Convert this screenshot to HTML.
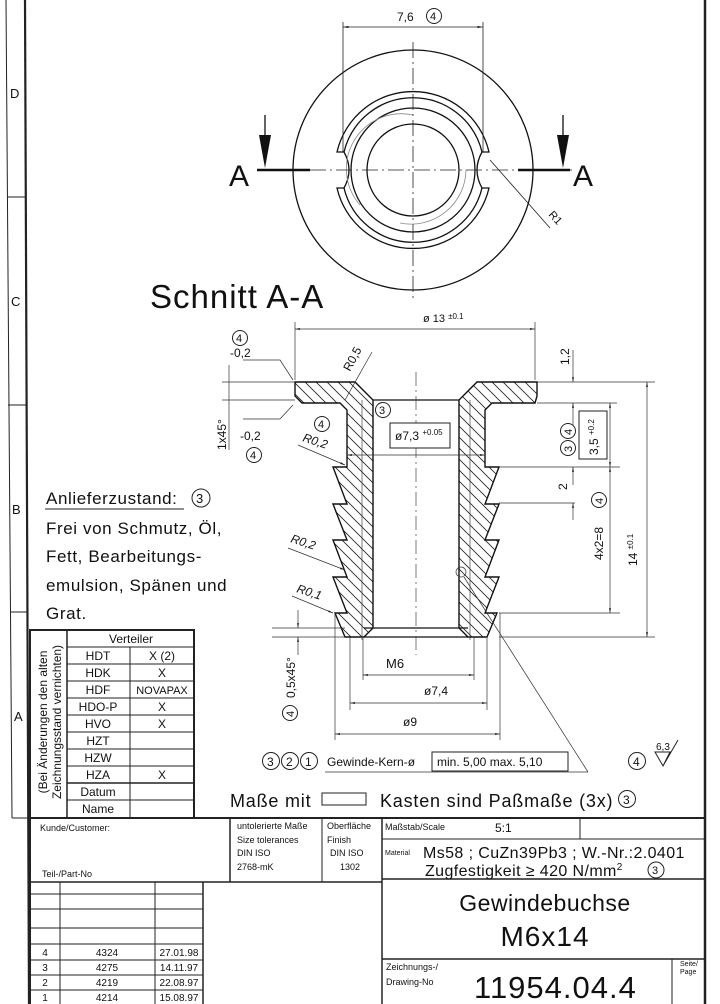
<!DOCTYPE html>
<html><head><meta charset="utf-8"><style>
html,body{margin:0;padding:0;background:#fff;}
svg{display:block;}
text{font-family:"Liberation Sans","DejaVu Sans",sans-serif;fill:#111;}
</style></head><body>
<svg width="720" height="1004" viewBox="0 0 720 1004" xmlns="http://www.w3.org/2000/svg">
<defs>
<pattern id="h" patternUnits="userSpaceOnUse" width="11" height="11">
<path d="M-2,-2 L13,13 M-2,9 L2,13 M9,-2 L13,2" stroke="#222" stroke-width="0.8"/>
</pattern>
<marker id="ar" viewBox="0 0 10 10" refX="10" refY="5" markerWidth="7" markerHeight="7" orient="auto-start-reverse"><path d="M0,3 L10,5 L0,7 z" fill="#222"/></marker>
</defs>
<rect width="720" height="1004" fill="#fff"/>

<!-- Frame -->
<g stroke="#222" fill="none">
<line x1="6" y1="0" x2="12" y2="818" stroke-width="1"/>
<line x1="25" y1="0" x2="29" y2="1004" stroke-width="2.2"/>
<line x1="705" y1="0" x2="705" y2="1004" stroke-width="2.5"/>
<line x1="7" y1="197" x2="26" y2="197"/>
<line x1="8" y1="405" x2="27" y2="405"/>
<line x1="10" y1="612" x2="28" y2="612"/>
<line x1="12" y1="818" x2="30" y2="818"/>
</g>
<g font-size="13">
<text x="10" y="98">D</text><text x="11" y="306">C</text><text x="12" y="514">B</text><text x="14" y="721">A</text>
</g>

<!-- Top view -->
<g stroke="#111" fill="none" stroke-width="1.3">
<circle cx="413" cy="170" r="120"/>
<circle cx="413" cy="170" r="62"/>
<circle cx="413" cy="170" r="46"/>
<path d="M337,152 A78,78 0 0 1 489,152 L482,152 Q472,170 482,188 L489,188 A78,78 0 0 1 337,188 L344,188 Q354,170 344,152 Z"/>
<path d="M344,152 A71,71 0 0 1 482,152 M482,188 A71,71 0 0 1 344,188"/>
<path d="M360,205 A55,55 0 0 1 413,115" stroke="#888" stroke-width="0.8"/>
<path d="M466,170 A55,55 0 0 1 400,223" stroke="#888" stroke-width="0.8"/>
</g>
<g stroke="#222" stroke-width="0.8" fill="none">
<line x1="413" y1="42" x2="413" y2="298" stroke-dasharray="16,4,2,4"/>
<line x1="258" y1="170" x2="572" y2="170" stroke-dasharray="16,4,2,4"/>
<line x1="343" y1="22" x2="343" y2="152"/>
<line x1="483" y1="22" x2="483" y2="152"/>
<line x1="343" y1="27" x2="483" y2="27" marker-start="url(#ar)" marker-end="url(#ar)"/>
<line x1="490" y1="160" x2="550" y2="228"/>
</g>
<g stroke="#111" stroke-width="2.5">
<line x1="257" y1="170" x2="310" y2="170"/>
<line x1="518" y1="170" x2="570" y2="170"/>
<line x1="265" y1="115" x2="265" y2="140" stroke-width="1.3"/>
<line x1="563" y1="115" x2="563" y2="140" stroke-width="1.3"/>
</g>
<path d="M259,135 L271,135 L265,168 Z" fill="#111"/>
<path d="M557,135 L569,135 L563,168 Z" fill="#111"/>
<text x="229" y="186" font-size="30">A</text>
<text x="573" y="186" font-size="30">A</text>
<text x="397" y="21" font-size="12">7,6</text>
<circle cx="434" cy="16" r="7.5" fill="none" stroke="#222"/><text x="430" y="20" font-size="11">4</text>
<text x="0" y="0" font-size="11" transform="translate(548,215) rotate(48)">R1</text>

<text x="150" y="308" font-size="33" letter-spacing="1">Schnitt A-A</text>

<!-- Section view -->
<path d="M295,382 L355,382 L373,400 L373,628 L364,637 L345,637 L335,613 L347,613 L333,577 L347,577 L333,540 L347,540 L333,504 L347,504 L333,467 L347,467 L347,410 L340,403 L302,403 L295,396 Z" fill="url(#h)" stroke="#111" stroke-width="1.4"/>
<path d="M537,382 L477,382 L459,400 L459,628 L468,637 L487,637 L497,613 L485,613 L499,577 L485,577 L499,540 L485,540 L499,504 L485,504 L499,467 L485,467 L485,410 L492,403 L535,403 L537,396 Z" fill="url(#h)" stroke="#111" stroke-width="1.4"/>
<g stroke="#111" stroke-width="1.3" fill="none">
<line x1="373" y1="400" x2="459" y2="400"/>
<line x1="364" y1="628" x2="468" y2="628"/>
<line x1="364" y1="637" x2="468" y2="637"/>
</g>
<g stroke="#444" stroke-width="0.7" fill="none">
<line x1="362" y1="400" x2="362" y2="640"/>
<line x1="470" y1="400" x2="470" y2="640"/>
<line x1="416" y1="372" x2="416" y2="655" stroke-dasharray="14,4,2,4"/>
</g>

<!-- dimension lines -->
<g stroke="#333" stroke-width="0.7" fill="none">
<line x1="295" y1="322" x2="295" y2="380"/>
<line x1="535" y1="322" x2="535" y2="380"/>
<line x1="295" y1="329" x2="535" y2="329" marker-start="url(#ar)" marker-end="url(#ar)"/>
<line x1="222" y1="382" x2="295" y2="382"/>
<line x1="222" y1="400" x2="295" y2="400"/>
<line x1="229" y1="365" x2="229" y2="450"/>
<path d="M243,360 L280,360 L293,380"/>
<path d="M243,419 L280,419 L293,405"/>
<line x1="345" y1="400" x2="372" y2="352"/>
<line x1="347" y1="455" x2="485" y2="455" marker-start="url(#ar)" marker-end="url(#ar)"/>
<line x1="298" y1="445" x2="345" y2="465" marker-end="url(#ar)"/>
<line x1="288" y1="548" x2="345" y2="570" marker-end="url(#ar)"/>
<line x1="292" y1="596" x2="333" y2="613" marker-end="url(#ar)"/>
<line x1="537" y1="382" x2="655" y2="382"/>
<line x1="537" y1="403" x2="617" y2="403"/>
<line x1="499" y1="467" x2="620" y2="467"/>
<line x1="499" y1="503" x2="575" y2="503"/>
<line x1="499" y1="613" x2="620" y2="613"/>
<line x1="499" y1="637" x2="655" y2="637"/>
<line x1="573" y1="350" x2="573" y2="382" marker-end="url(#ar)"/>
<line x1="573" y1="425" x2="573" y2="403" marker-end="url(#ar)"/>
<line x1="573" y1="485" x2="573" y2="467" marker-end="url(#ar)"/>
<line x1="573" y1="520" x2="573" y2="503" marker-end="url(#ar)"/>
<line x1="610" y1="403" x2="610" y2="467" marker-start="url(#ar)" marker-end="url(#ar)"/>
<line x1="610" y1="467" x2="610" y2="613" marker-start="url(#ar)" marker-end="url(#ar)"/>
<line x1="647" y1="382" x2="647" y2="637" marker-start="url(#ar)" marker-end="url(#ar)"/>
<line x1="272" y1="628" x2="345" y2="628"/>
<line x1="272" y1="637" x2="345" y2="637"/>
<line x1="298" y1="610" x2="298" y2="628" marker-end="url(#ar)"/>
<line x1="298" y1="655" x2="298" y2="637" marker-end="url(#ar)"/>
<line x1="363" y1="637" x2="363" y2="680"/>
<line x1="474" y1="637" x2="474" y2="680"/>
<line x1="350" y1="637" x2="350" y2="710"/>
<line x1="487" y1="637" x2="487" y2="710"/>
<line x1="335" y1="613" x2="335" y2="740"/>
<line x1="500" y1="613" x2="500" y2="740"/>
<line x1="363" y1="675" x2="474" y2="675" marker-start="url(#ar)" marker-end="url(#ar)"/>
<line x1="350" y1="703" x2="487" y2="703" marker-start="url(#ar)" marker-end="url(#ar)"/>
<line x1="335" y1="734" x2="500" y2="734" marker-start="url(#ar)" marker-end="url(#ar)"/>
<circle cx="461" cy="572" r="5"/>
<line x1="464" y1="577" x2="588" y2="772"/>
<line x1="325" y1="772" x2="588" y2="772"/>
</g>
<g font-size="11">
<text x="423" y="322">ø 13 <tspan font-size="8" dy="-3">±0.1</tspan></text>
<circle cx="240" cy="338" r="7.5" fill="none" stroke="#222"/><text x="236" y="342">4</text>
<text x="230" y="357" font-size="12">-0,2</text>
<text x="240" y="440" font-size="12">-0,2</text>
<circle cx="254" cy="455" r="7.5" fill="none" stroke="#222"/><text x="250" y="459">4</text>
<text font-size="12" transform="translate(226,450) rotate(-90)">1x45°</text>
<text font-size="12" transform="translate(350,372) rotate(-62)">R0,5</text>
<circle cx="383" cy="410" r="7.5" fill="none" stroke="#222"/><text x="379" y="414">3</text>
<rect x="390" y="423" width="60" height="25" fill="#fff" stroke="#222"/>
<text x="395" y="440" font-size="12">ø7,3 <tspan font-size="8" dy="-5">+0.05</tspan></text>
<circle cx="322" cy="424" r="7.5" fill="none" stroke="#222"/><text x="318" y="428">4</text>
<text font-size="12" font-style="italic" transform="translate(302,441) rotate(18)">R0,2</text>
<text font-size="12" font-style="italic" transform="translate(290,542) rotate(18)">R0,2</text>
<text font-size="12" font-style="italic" transform="translate(296,592) rotate(18)">R0,1</text>
<text font-size="12" transform="translate(569,365) rotate(-90)">1,2</text>
<circle cx="568" cy="431" r="7.5" fill="none" stroke="#222"/><text font-size="11" transform="translate(572,435) rotate(-90)">4</text>
<circle cx="568" cy="448" r="7.5" fill="none" stroke="#222"/><text font-size="11" transform="translate(572,452) rotate(-90)">3</text>
<rect x="579" y="411" width="28" height="48" fill="#fff" stroke="#222"/>
<text font-size="12" transform="translate(598,455) rotate(-90)">3,5 <tspan font-size="8" dy="-4">+0.2</tspan></text>
<text font-size="12" transform="translate(567,490) rotate(-90)">2</text>
<text font-size="12" transform="translate(603,560) rotate(-90)">4x2=8</text>
<circle cx="599" cy="500" r="7.5" fill="none" stroke="#222"/><text font-size="11" transform="translate(603,504) rotate(-90)">4</text>
<text font-size="12" transform="translate(637,566) rotate(-90)">14 <tspan font-size="8" dy="-4">±0.1</tspan></text>
<text font-size="12" transform="translate(295,698) rotate(-90)">0,5x45°</text>
<circle cx="290" cy="713" r="7.5" fill="none" stroke="#222"/><text font-size="11" transform="translate(294,717) rotate(-90)">4</text>
<text x="386" y="668" font-size="13">M6</text>
<text x="424" y="695" font-size="12">ø7,4</text>
<text x="403" y="726" font-size="12">ø9</text>
</g>

<!-- notes -->
<g font-size="17" letter-spacing="0.6">
<text x="46" y="504">Anlieferzustand:</text>
<text x="46" y="534">Frei von Schmutz, Öl,</text>
<text x="46" y="562">Fett, Bearbeitungs-</text>
<text x="46" y="591">emulsion, Spänen und</text>
<text x="46" y="619">Grat.</text>
</g>
<line x1="45" y1="509" x2="184" y2="509" stroke="#222"/>
<circle cx="201" cy="498" r="9" fill="none" stroke="#222"/><text x="196" y="503" font-size="13">3</text>

<g fill="none" stroke="#222">
<circle cx="271" cy="761" r="8.5"/><circle cx="290" cy="761" r="8.5"/><circle cx="309" cy="761" r="8.5"/>
<rect x="432" y="752" width="136" height="19"/>
<circle cx="637" cy="761" r="8.5"/>
<path d="M655,752 L670,752 L663,766 Z M663,766 L678,740"/>
<rect x="322" y="793" width="44" height="12"/>
<circle cx="627" cy="799" r="8.5"/>
</g>
<g font-size="12">
<text x="267" y="766">3</text><text x="286" y="766">2</text><text x="305" y="766">1</text>
<text x="327" y="766">Gewinde-Kern-ø</text>
<text x="437" y="766">min. 5,00 max. 5,10</text>
<text x="633" y="766">4</text>
<text x="656" y="750" font-size="10">6,3</text>
<text x="623" y="804">3</text>
</g>
<text x="230" y="807" font-size="18" letter-spacing="0.8">Maße mit</text>
<text x="380" y="807" font-size="18" letter-spacing="0.8">Kasten sind Paßmaße (3x)</text>

<!-- Verteiler table -->
<g stroke="#222" fill="none">
<rect x="30" y="630" width="164" height="188" stroke-width="2"/>
<line x1="67" y1="630" x2="67" y2="818" stroke-width="1.5"/>
<line x1="130" y1="647" x2="130" y2="818"/>
<line x1="67" y1="647" x2="194" y2="647"/><line x1="67" y1="664" x2="194" y2="664"/>
<line x1="67" y1="681" x2="194" y2="681"/><line x1="67" y1="698" x2="194" y2="698"/>
<line x1="67" y1="715" x2="194" y2="715"/><line x1="67" y1="732" x2="194" y2="732"/>
<line x1="67" y1="749" x2="194" y2="749"/><line x1="67" y1="766" x2="194" y2="766"/>
<line x1="67" y1="783" x2="194" y2="783" stroke-width="1.5"/><line x1="67" y1="800" x2="194" y2="800"/>
</g>
<g font-size="12" text-anchor="middle">
<text x="131" y="643">Verteiler</text>
<text x="98" y="660">HDT</text><text x="162" y="660">X (2)</text>
<text x="98" y="677">HDK</text><text x="162" y="677">X</text>
<text x="98" y="694">HDF</text><text x="162" y="694" font-size="11">NOVAPAX</text>
<text x="98" y="711">HDO-P</text><text x="162" y="711">X</text>
<text x="98" y="728">HVO</text><text x="162" y="728">X</text>
<text x="98" y="745">HZT</text>
<text x="98" y="762">HZW</text>
<text x="98" y="779">HZA</text><text x="162" y="779">X</text>
<text x="98" y="796">Datum</text>
<text x="98" y="813">Name</text>
</g>
<text font-size="12" text-anchor="middle" transform="translate(47,722) rotate(-90)">(Bei Änderungen den alten</text>
<text font-size="12" text-anchor="middle" transform="translate(61,722) rotate(-90)">Zeichnungsstand vernichten)</text>

<!-- Title block -->
<g stroke="#222" fill="none">
<line x1="30" y1="818" x2="705" y2="818" stroke-width="2"/>
<line x1="30" y1="818" x2="30" y2="1004" stroke-width="2"/>
<line x1="230" y1="818" x2="230" y2="882" stroke-width="1.5"/>
<line x1="322" y1="818" x2="322" y2="882"/>
<line x1="382" y1="818" x2="382" y2="1004" stroke-width="1.5"/>
<line x1="30" y1="882" x2="382" y2="882" stroke-width="1.5"/>
<line x1="580" y1="818" x2="580" y2="839"/>
<line x1="382" y1="839" x2="705" y2="839"/>
<line x1="382" y1="879" x2="705" y2="879" stroke-width="1.5"/>
<line x1="382" y1="959" x2="705" y2="959" stroke-width="1.5"/>
<line x1="672" y1="959" x2="672" y2="1004"/>
<line x1="203" y1="882" x2="203" y2="1004" stroke-width="1.5"/>
<line x1="60" y1="882" x2="60" y2="1004"/>
<line x1="155" y1="882" x2="155" y2="1004"/>
<line x1="30" y1="894" x2="203" y2="894"/>
<line x1="30" y1="909" x2="203" y2="909"/>
<line x1="30" y1="928" x2="203" y2="928"/>
<line x1="30" y1="944" x2="203" y2="944"/>
<line x1="30" y1="960" x2="203" y2="960"/>
<line x1="30" y1="975" x2="203" y2="975"/>
<line x1="30" y1="990" x2="203" y2="990"/>
</g>
<g font-size="9">
<text x="40" y="831">Kunde/Customer:</text>
<text x="42" y="877">Teil-/Part-No</text>
<text x="237" y="829">untolerierte Maße</text>
<text x="237" y="843">Size tolerances</text>
<text x="237" y="856">DIN ISO</text>
<text x="237" y="870">2768-mK</text>
<text x="327" y="829">Oberfläche</text>
<text x="327" y="843">Finish</text>
<text x="330" y="856">DIN ISO</text>
<text x="340" y="870">1302</text>
<text x="385" y="830">Maßstab/Scale</text>
<text x="385" y="855" font-size="7">Material</text>
<text x="386" y="970">Zeichnungs-/</text>
<text x="386" y="985">Drawing-No</text>
<text x="680" y="966" font-size="7">Seite/</text>
<text x="680" y="974" font-size="7">Page</text>
</g>
<text x="495" y="832" font-size="12">5:1</text>
<text x="423" y="858" font-size="16" letter-spacing="0.4">Ms58 ; CuZn39Pb3 ; W.-Nr.:2.0401</text>
<text x="425" y="876" font-size="16" letter-spacing="0.4">Zugfestigkeit ≥ 420 N/mm<tspan font-size="10" dy="-6">2</tspan></text>
<circle cx="656" cy="870" r="8" fill="none" stroke="#222"/><text x="652" y="874" font-size="11">3</text>
<text x="545" y="911" font-size="23" text-anchor="middle" letter-spacing="0.5">Gewindebuchse</text>
<text x="545" y="946" font-size="28" text-anchor="middle" letter-spacing="1">M6x14</text>
<text x="474" y="998" font-size="31" letter-spacing="1">11954.04.4</text>
<g font-size="10" text-anchor="middle">
<text x="45" y="956">4</text><text x="107" y="956">4324</text><text x="179" y="956">27.01.98</text>
<text x="45" y="971">3</text><text x="107" y="971">4275</text><text x="179" y="971">14.11.97</text>
<text x="45" y="986">2</text><text x="107" y="986">4219</text><text x="179" y="986">22.08.97</text>
<text x="45" y="1001">1</text><text x="107" y="1001">4214</text><text x="179" y="1001">15.08.97</text>
</g>
</svg>
</body></html>
